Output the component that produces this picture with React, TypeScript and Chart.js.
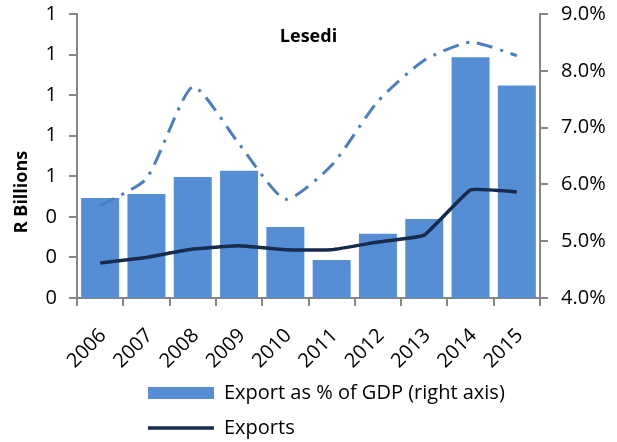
import React, { useEffect, useRef } from "react";
import { Chart, registerables } from "chart.js";

Chart.register(...registerables);

const TITLE = "Lesedi";
const Y_TITLE = "R Billions";
const years = ["2006", "2007", "2008", "2009", "2010", "2011", "2012", "2013", "2014", "2015"];
const exportPctGdp = [5.76, 5.83, 6.13, 6.24, 5.25, 4.67, 5.13, 5.39, 8.24, 7.74];
const exportsBn = [0.172, 0.2, 0.241, 0.257, 0.238, 0.238, 0.276, 0.31, 0.533, 0.523];
const otherSeries = [0.454, 0.589, 1.041, 0.76, 0.487, 0.654, 0.97, 1.172, 1.261, 1.195];
const leftAxis = { min: 0, max: 1.4, step: 0.2 };
const rightAxis = { min: 4, max: 9, step: 1 };
const BAR_LABEL = "Export as % of GDP (right axis)";
const LINE_LABEL = "Exports";

const FONT = "'Open Sans', sans-serif";
const AXIS_COLOR = "#868686";
const BAR_COLOR = "#558ED5";
const LINE_COLOR = "#172B4D";
const DASH_COLOR = "#4A7EBF";

const textPlugin = {
  id: "customTexts",
  afterDraw(chart: any) {
    const { ctx, chartArea } = chart;
    ctx.save();
    ctx.fillStyle = "#000";
    ctx.font = `bold 18px ${FONT}`;
    ctx.textAlign = "center";
    ctx.textBaseline = "alphabetic";
    ctx.fillText(TITLE, (chartArea.left + chartArea.right) / 2, chartArea.top + 28);
    ctx.translate(22, 192);
    ctx.rotate(-Math.PI / 2);
    ctx.textBaseline = "middle";
    ctx.fillText(Y_TITLE, 0, 0);
    ctx.restore();
  },
};

const legendShift = {
  id: "legendShift",
  afterLayout(chart: any) {
    const lg = chart.legend;
    if (!lg) return;
    const h = lg.bottom - lg.top;
    const w = lg.right - lg.left;
    lg.left = 133;
    lg.right = 133 + w;
    lg.top = 368;
    lg.bottom = 368 + h;
  },
};

const fixVertical = (w: number) => (s: any) => {
  s.width = w;
  s.paddingTop = 0;
  s.paddingBottom = 0;
};

export default function App() {
  const ref = useRef<HTMLCanvasElement | null>(null);

  useEffect(() => {
    if (!ref.current) return;
    const chart = new Chart(ref.current, {
      type: "bar",
      data: {
        labels: years,
        datasets: [
          {
            type: "line",
            label: LINE_LABEL,
            data: exportsBn,
            yAxisID: "y",
            borderColor: LINE_COLOR,
            backgroundColor: LINE_COLOR,
            borderWidth: 3.5,
            pointRadius: 0,
            tension: 0.1,
            order: 0,
          },
          {
            type: "line",
            label: "hidden",
            data: otherSeries,
            yAxisID: "y",
            borderColor: DASH_COLOR,
            backgroundColor: DASH_COLOR,
            borderWidth: 3,
            borderDash: [16, 8, 3, 8],
            pointRadius: 0,
            tension: 0.2,
            order: 1,
          },
          {
            type: "bar",
            label: BAR_LABEL,
            data: exportPctGdp,
            yAxisID: "y1",
            backgroundColor: BAR_COLOR,
            borderWidth: 0,
            categoryPercentage: 1,
            barPercentage: 0.82,
            order: 2,
          },
        ] as any,
      },
      options: {
        animation: false,
        responsive: false,
        maintainAspectRatio: false,
        layout: { padding: { top: 14, left: 0, right: 0, bottom: -8 } },
        font: { family: FONT, size: 20 } as any,
        plugins: {
          title: { display: false },
          tooltip: { enabled: false },
          legend: {
            display: true,
            position: "bottom",
            align: "start",
            fullSize: false,
            labels: {
              font: { family: FONT, size: 20 },
              color: "#000",
              usePointStyle: true,
              pointStyleWidth: 66,
              boxHeight: 12,
              padding: 15,
              generateLabels: () => [
                {
                  text: BAR_LABEL,
                  fillStyle: BAR_COLOR,
                  strokeStyle: BAR_COLOR,
                  lineWidth: 0,
                  pointStyle: "rect",
                  datasetIndex: 2,
                  hidden: false,
                  fontColor: "#000",
                } as any,
                {
                  text: LINE_LABEL,
                  fillStyle: LINE_COLOR,
                  strokeStyle: LINE_COLOR,
                  lineWidth: 3.5,
                  pointStyle: "line",
                  datasetIndex: 0,
                  hidden: false,
                  fontColor: "#000",
                } as any,
              ],
            },
          },
        },
        scales: {
          x: {
            grid: {
              display: true,
              drawOnChartArea: false,
              drawTicks: true,
              tickLength: 8,
              color: AXIS_COLOR,
              lineWidth: 2,
              offset: true,
            },
            border: { display: true, color: AXIS_COLOR, width: 2 },
            ticks: {
              autoSkip: false,
              minRotation: 45,
              maxRotation: 45,
              color: "#000",
              font: { family: FONT, size: 20 },
              padding: 18,
              labelOffset: 3,
            },
            afterFit: (s: any) => {
              s.height = 72;
            },
          },
          y: {
            position: "left",
            min: leftAxis.min,
            max: leftAxis.max,
            grid: {
              display: true,
              drawOnChartArea: false,
              drawTicks: true,
              tickLength: 8,
              color: AXIS_COLOR,
              lineWidth: 2,
            },
            border: { display: true, color: AXIS_COLOR, width: 2 },
            ticks: {
              stepSize: leftAxis.step,
              color: "#000",
              font: { family: FONT, size: 20 },
              padding: 12,
              callback: (v: any) => String(Math.round(Number(v))),
            },
            afterFit: fixVertical(77),
          },
          y1: {
            position: "right",
            min: rightAxis.min,
            max: rightAxis.max,
            grid: {
              display: true,
              drawOnChartArea: false,
              drawTicks: true,
              tickLength: 8,
              color: AXIS_COLOR,
              lineWidth: 2,
            },
            border: { display: true, color: AXIS_COLOR, width: 2 },
            ticks: {
              stepSize: rightAxis.step,
              color: "#000",
              font: { family: FONT, size: 20 },
              padding: 13,
              callback: (v: any) => Number(v).toFixed(1) + "%",
            },
            afterFit: fixVertical(77),
          },
        },
      } as any,
      plugins: [textPlugin, legendShift],
    });
    return () => chart.destroy();
  }, []);

  return (
    <div style={{ position: "fixed", left: 0, top: 0, width: 617, height: 442, background: "#fff" }}>
      <canvas ref={ref} width={617} height={442} style={{ display: "block", width: 617, height: 442 }} />
    </div>
  );
}
